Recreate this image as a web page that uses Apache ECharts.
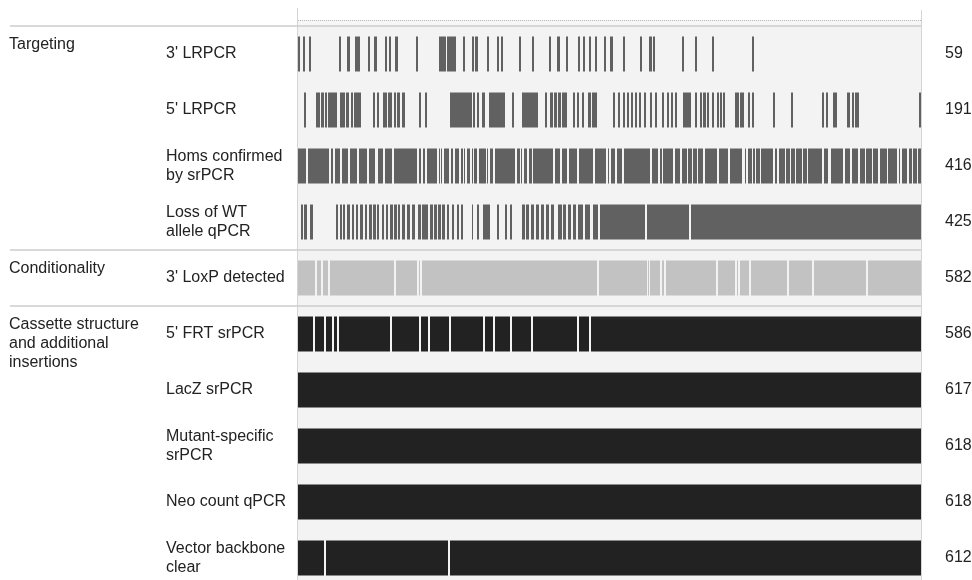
<!DOCTYPE html>
<html>
<head>
<meta charset="utf-8">
<script src="https://cdn.jsdelivr.net/npm/echarts@6/dist/echarts.min.js"></script>
<style>html,body{margin:0;padding:0;background:#fff}#c{width:972px;height:580px}</style>
</head>
<body>
<div id="c"></div>
<script>
// ---------- data ----------
const rowLabels = ["3' LRPCR", "5' LRPCR", "Homs confirmed\nby srPCR", "Loss of WT\nallele qPCR",
  "3' LoxP detected", "5' FRT srPCR", "LacZ srPCR", "Mutant-specific\nsrPCR", "Neo count qPCR", "Vector backbone\nclear"];
const passCounts = [59, 191, 416, 425, 582, 586, 617, 618, 618, 612];
const groupLabels = ["Targeting", "Conditionality", "Cassette structure\nand additional\ninsertions"];
const groupFirstRow = [0, 4, 5];
const rowGroup = [0, 0, 0, 0, 1, 2, 2, 2, 2, 2];
const nAlleles = 623;

// passing runs [start, end) (allele index, left to right)
const pass3LR = [[0,2],[5,7],[11,13],[41,43],[49,52],[57,62],[70,72],[76,79],[87,89],[91,93],[97,100],[118,120],
  [141,148],[149,158],[165,167],[174,176],[177,180],[189,191],[199,201],[203,205],[221,223],[234,236],[251,253],
  [259,262],[268,270],[280,282],[285,287],[291,293],[297,299],[306,308],[312,315],[325,327],[342,344],[351,354],
  [355,357],[384,386],[397,399],[414,416],[454,456]];
const pass5LR = [[6,8],[18,22],[23,26],[27,29],[30,39],[42,47],[48,51],[53,55],[56,63],[75,77],[79,81],[85,89],
  [90,94],[96,98],[99,102],[104,107],[121,123],[127,129],[152,174],[175,177],[179,181],[184,187],[191,207],
  [214,216],[224,240],[247,249],[252,255],[256,259],[260,263],[264,269],[275,277],[279,281],[284,286],[290,293],
  [294,299],[315,317],[320,322],[325,327],[329,331],[333,335],[337,339],[341,343],[346,348],[352,354],[357,359],
  [364,366],[369,371],[373,375],[377,379],[385,393],[397,399],[402,404],[405,408],[409,411],[414,416],[419,421],
  [422,424],[425,427],[437,441],[442,446],[450,452],[454,456],[475,477],[493,495],[524,526],[528,530],[535,539],
  [549,552],[554,556],[557,561],[621,623]];
const passLossWT = [[3,5],[6,9],[12,15],[38,40],[42,44],[45,47],[49,52],[54,56],[58,60],[62,65],[67,69],[71,74],
  [75,78],[79,81],[84,86],[88,90],[92,95],[96,99],[100,102],[104,107],[109,112],[114,117],[120,123],[124,130],
  [132,135],[136,139],[140,143],[144,147],[149,151],[154,156],[159,161],[163,165],[174,175],[179,181],[185,192],
  [199,201],[207,209],[212,214],[224,227],[228,231],[233,236],[238,241],[243,246],[248,251],[253,256],[260,264],
  [265,268],[270,273],[275,278],[280,285],[287,292],[295,300],[302,347],[349,391],[393,623]];
// failing runs [start, end) for mostly-passing rows
const failHoms = [[8,10],[31,33],[35,37],[42,44],[50,52],[59,61],[69,71],[77,80],[85,87],[94,96],[119,121],[123,125],
  [127,129],[139,141],[142,143],[144,146],[151,153],[155,157],[161,163],[165,166],[167,169],[172,174],[175,176],
  [179,181],[188,189],[190,192],[195,197],[217,219],[222,223],[224,226],[229,231],[234,235],[255,257],[262,264],
  [269,271],[279,281],[295,297],[308,310],[311,313],[317,319],[324,326],[352,354],[360,362],[364,365],[375,377],
  [382,384],[389,390],[394,395],[399,400],[405,407],[419,421],[430,432],[444,447],[448,450],[454,455],[457,458],
  [462,463],[475,477],[479,481],[487,488],[492,493],[497,498],[504,505],[509,510],[524,526],[530,533],[545,547],
  [552,554],[560,562],[567,568],[574,575],[580,582],[589,590],[599,601],[602,604],[609,611],[614,615],[619,620]];
const failLoxP = [[17,19],[23,25],[30,32],[96,98],[119,121],[122,124],[299,301],[349,350],[351,352],[362,364],
  [366,368],[418,420],[437,439],[440,442],[451,453],[489,491],[514,516],[568,570]];
const failFRT = [[15,17],[26,28],[34,36],[39,41],[92,94],[121,123],[130,132],[151,153],[185,187],[195,197],
  [212,214],[233,235],[279,281],[291,293]];
const failLacZ = [];
const failMutant = [];
const failNeo = [];
const failVector = [[26,28],[150,152]];

// ---------- build ----------
function complement(fails, n) {
  const out = []; let s = 0;
  fails.slice().sort((a, b) => a[0] - b[0]).forEach(([a, b]) => { if (a > s) out.push([s, a]); s = Math.max(s, b); });
  if (s < n) out.push([s, n]);
  return out;
}
const rowRuns = [pass3LR, pass5LR, complement(failHoms, nAlleles), passLossWT, complement(failLoxP, nAlleles),
  complement(failFRT, nAlleles), complement(failLacZ, nAlleles), complement(failMutant, nAlleles),
  complement(failNeo, nAlleles), complement(failVector, nAlleles)];
const groupColors = ['#616161', '#c2c2c2', '#222222'];
const seriesData = [];
rowRuns.forEach((runs, r) => runs.forEach(([a, b]) => seriesData.push([a, b, r])));

const FONT = '"Liberation Sans", Arial, sans-serif';
const G = { left: 298, top: 26, width: 623, height: 560 };
const band = G.height / rowLabels.length;

const graphics = [];
// top dotted line and band above grid
graphics.push({ type: 'rect', shape: { x: G.left, y: 20, width: G.width, height: G.top - 20 }, style: { fill: '#f6f6f6' }, z: 0 });
graphics.push({ type: 'line', shape: { x1: G.left, y1: 20.5, x2: G.left + G.width, y2: 20.5 }, style: { stroke: '#b8b8b8', lineWidth: 1, lineDash: [1, 1] }, z: 5 });
// vertical frame lines
graphics.push({ type: 'line', shape: { x1: G.left - 0.5, y1: 8, x2: G.left - 0.5, y2: 580 }, style: { stroke: '#d4d4d4', lineWidth: 1 }, z: 5 });
graphics.push({ type: 'line', shape: { x1: G.left + G.width + 0.5, y1: 10, x2: G.left + G.width + 0.5, y2: 580 }, style: { stroke: '#d4d4d4', lineWidth: 1 }, z: 5 });
// group separators and labels
groupFirstRow.forEach((r, gi) => {
  const y = G.top + r * band;
  graphics.push({ type: 'line', shape: { x1: 10, y1: y, x2: G.left + G.width, y2: y }, style: { stroke: '#cdcdcd', lineWidth: 1.5 }, z: 6 });
  graphics.push({ type: 'text', x: 9, y: y + 9, style: { text: groupLabels[gi], font: '16px ' + FONT, fill: '#222', lineHeight: 19, textVerticalAlign: 'top' }, z: 6 });
});

const option = {
  animation: false,
  backgroundColor: '#fff',
  graphic: graphics,
  grid: { left: G.left, top: G.top, width: G.width, height: G.height, show: true, backgroundColor: '#f3f3f3',
    borderWidth: 0, containLabel: false, outerBoundsMode: 'none' },
  xAxis: { type: 'value', min: 0, max: nAlleles, show: false },
  yAxis: [
    { type: 'category', data: rowLabels, inverse: true,
      axisLine: { show: false }, axisTick: { show: false }, splitLine: { show: false },
      axisLabel: { align: 'left', margin: 132, fontSize: 16, lineHeight: 19, color: '#222', fontFamily: FONT } },
    { type: 'category', data: rowLabels, inverse: true, position: 'right',
      axisLine: { show: false }, axisTick: { show: false }, splitLine: { show: false },
      axisLabel: { align: 'left', margin: 24, fontSize: 16, color: '#222', fontFamily: FONT,
        formatter: (v, i) => String(passCounts[i]) } }
  ],
  series: [{
    type: 'custom',
    xAxisIndex: 0, yAxisIndex: 0,
    encode: { x: [0, 1], y: 2 },
    data: seriesData,
    renderItem: function (params, api) {
      const r = api.value(2);
      const p0 = api.coord([api.value(0), r]);
      const p1 = api.coord([api.value(1), r]);
      const h = api.size([0, 1])[1] * 0.625;
      return { type: 'rect', shape: { x: p0[0], y: p0[1] - h / 2, width: p1[0] - p0[0], height: h },
        style: { fill: groupColors[rowGroup[r]] } };
    }
  }]
};
const chart = echarts.init(document.getElementById('c'), null, { renderer: 'canvas' });
chart.setOption(option);
</script>
</body>
</html>
